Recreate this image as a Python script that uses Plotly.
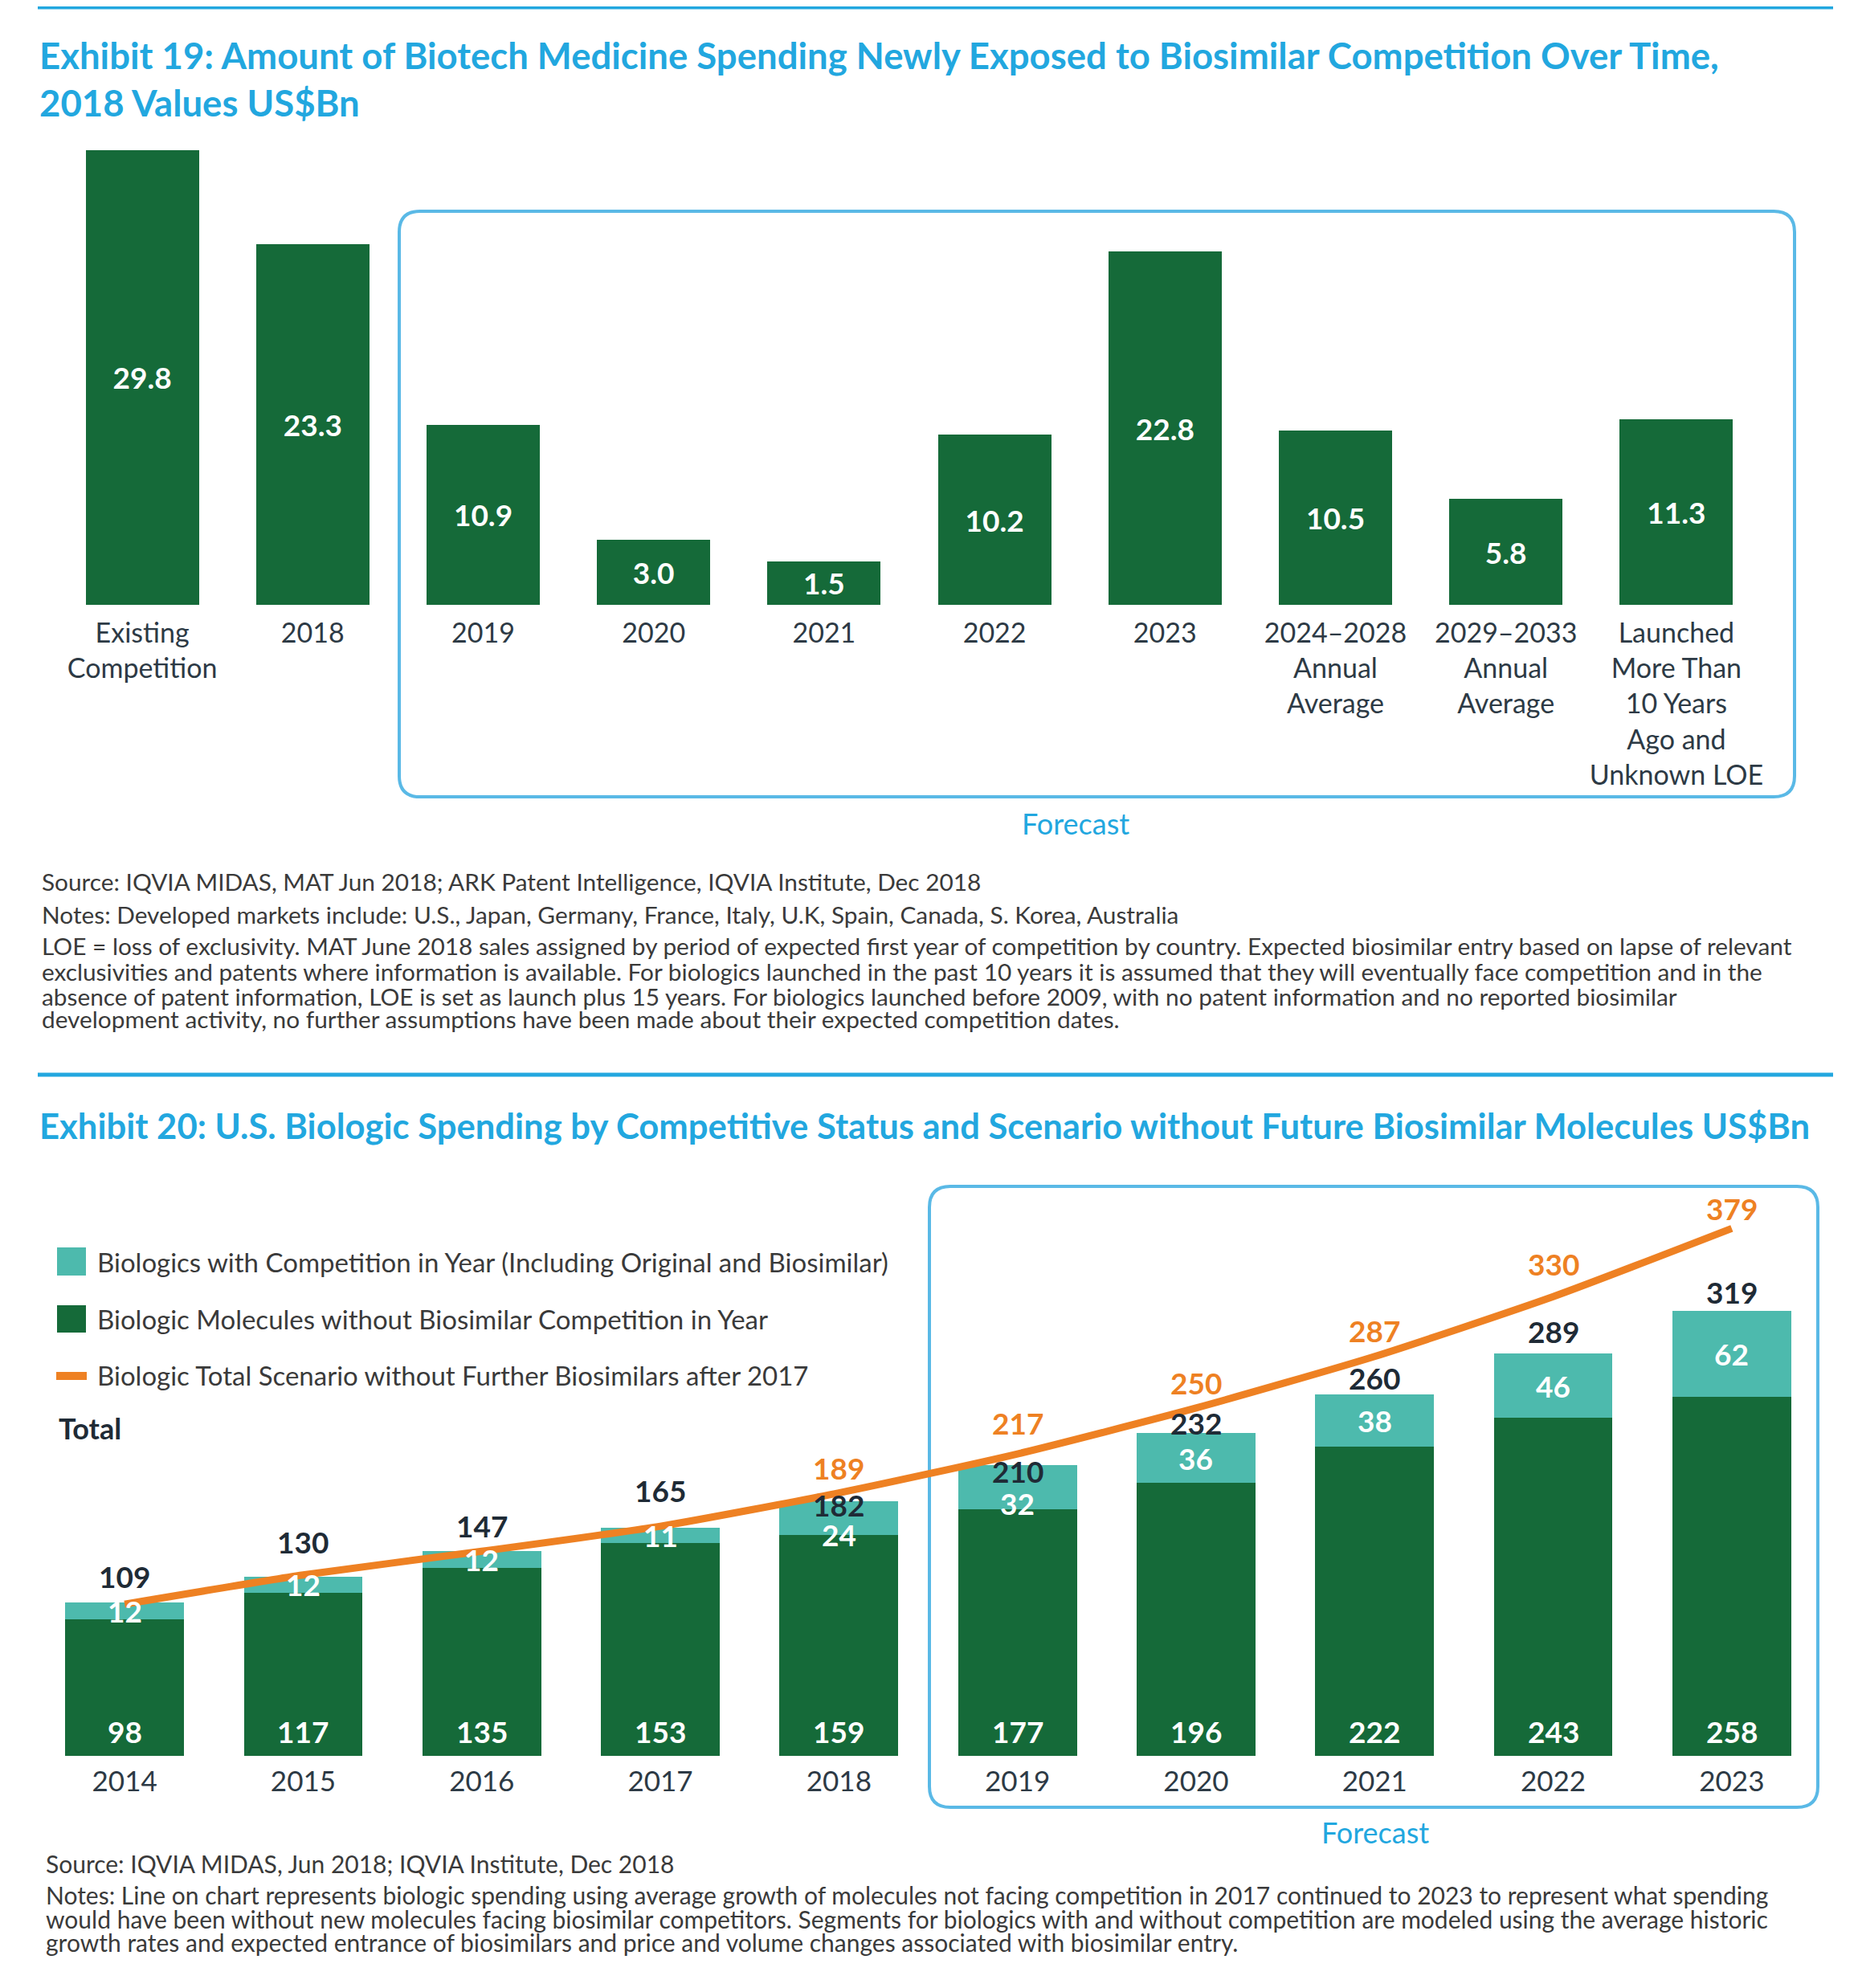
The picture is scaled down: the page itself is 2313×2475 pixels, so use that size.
import plotly.graph_objects as go

W, H = 2313, 2475

# ---------------- Exhibit 19 data ----------------
cat19 = ["Existing Competition", "2018", "2019", "2020", "2021", "2022", "2023",
         "2024-2028 Annual Average", "2029-2033 Annual Average",
         "Launched More Than 10 Years Ago and Unknown LOE"]
tick19 = ["Existing<br>Competition", "2018", "2019", "2020", "2021", "2022", "2023",
          "2024–2028<br>Annual<br>Average", "2029–2033<br>Annual<br>Average",
          "Launched<br>More Than<br>10 Years<br>Ago and<br>Unknown LOE"]
val19 = [29.8, 23.3, 10.9, 3.0, 1.5, 10.2, 22.8, 10.5, 5.8, 11.3]

# ---------------- Exhibit 20 data ----------------
years20 = ["2014", "2015", "2016", "2017", "2018", "2019", "2020", "2021", "2022", "2023"]
without_comp = [98, 117, 135, 153, 159, 177, 196, 222, 243, 258]
with_comp = [12, 12, 12, 11, 24, 32, 36, 38, 46, 62]
totals = [109, 130, 147, 165, 182, 210, 232, 260, 289, 319]
scenario = [109, 130, 147, 165, 189, 217, 250, 287, 330, 379]
scenario_label_from = "2018"

# label offsets (pixels, style only)
total_shift = [35, 41, 32, 45, -3, -9, 13, 20, 28, 25]
teal_shift = [0, 0, 0, 0, -21, -20, 0, 0, 0, 0]
orange_shift = [32, 32, 32, 32, 31, 39, 31, 32, 41, 25]

# Exhibit 19 value axis starts slightly below zero; bars rise from the axis floor
AXIS_MIN19 = -1.49

# ---------------- styles ----------------
GREEN = "#156a39"
TEAL = "#4dbaad"
ORANGE = "#ee8123"
BLUE = "#22a7df"
BOX = "#5ab9e6"
DARK = "#1f2b36"
TICK = "#2d3a45"
NOTE = "#3a3a3a"
FONT = "Lato"

OFF = 8  # page body margin compensation


def px(x):
    return (x - OFF) / W


def py(y):
    return 1 - (y - OFF) / H


fig = go.Figure()

fig.add_trace(go.Bar(
    x=cat19, y=[v - AXIS_MIN19 for v in val19], base=[AXIS_MIN19] * len(val19),
    xaxis="x", yaxis="y",
    marker=dict(color=GREEN, line=dict(width=0)),
    text=[f"{v:.1f}" for v in val19], textposition="inside",
    insidetextanchor="middle", constraintext="none",
    textfont=dict(family=FONT, size=37, color="white", weight="bold"),
    customdata=val19, hovertemplate="%{x}: %{customdata}<extra></extra>",
    showlegend=False,
))

fig.add_trace(go.Bar(
    x=years20, y=without_comp, xaxis="x2", yaxis="y2",
    marker=dict(color=GREEN, line=dict(width=0)),
    name="Biologic Molecules without Biosimilar Competition in Year",
    showlegend=False,
))
fig.add_trace(go.Bar(
    x=years20, y=with_comp, xaxis="x2", yaxis="y2",
    marker=dict(color=TEAL, line=dict(width=0)),
    name="Biologics with Competition in Year (Including Original and Biosimilar)",
    showlegend=False,
))
fig.add_trace(go.Scatter(
    x=years20, y=scenario, xaxis="x2", yaxis="y2", mode="lines",
    line=dict(color=ORANGE, width=9, shape="spline", smoothing=0.6),
    name="Biologic Total Scenario without Further Biosimilars after 2017",
    showlegend=False,
))

ann = []

def text(x, y, s, size, color, bold=False, anchor="left", xref="paper", yref="paper", yshift=0):
    ann.append(dict(x=x, y=y, xref=xref, yref=yref, text=s, showarrow=False,
                    xanchor=anchor, yanchor="middle", yshift=yshift,
                    font=dict(family=FONT, size=size, color=color,
                              weight="bold" if bold else "normal")))

# titles
text(px(47), py(68), "Exhibit 19: Amount of Biotech Medicine Spending Newly Exposed to Biosimilar Competition Over Time,", 45.5, BLUE, True)
text(px(47), py(128), "2018 Values US$Bn", 45.5, BLUE, True)
text(px(47), py(1401), "Exhibit 20: U.S. Biologic Spending by Competitive Status and Scenario without Future Biosimilar Molecules US$Bn", 43.6, BLUE, True)

# forecast labels
text(px(1339), py(1025), "Forecast", 36, BLUE, anchor="center")
text(px(1712), py(2281), "Forecast", 36, BLUE, anchor="center")

# notes 19
notes19 = [
    (1098, "Source: IQVIA MIDAS, MAT Jun 2018; ARK Patent Intelligence, IQVIA Institute, Dec 2018"),
    (1138, "Notes: Developed markets include: U.S., Japan, Germany, France, Italy, U.K, Spain, Canada, S. Korea, Australia"),
    (1178, "LOE = loss of exclusivity. MAT June 2018 sales assigned by period of expected first year of competition by country. Expected biosimilar entry based on lapse of relevant"),
    (1209, "exclusivities and patents where information is available. For biologics launched in the past 10 years it is assumed that they will eventually face competition and in the"),
    (1240, "absence of patent information, LOE is set as launch plus 15 years. For biologics launched before 2009, with no patent information and no reported biosimilar"),
    (1269, "development activity, no further assumptions have been made about their expected competition dates."),
]
for yy, s in notes19:
    text(px(50), py(yy), s, 29.8, NOTE)

notes20 = [
    (2320, "Source: IQVIA MIDAS, Jun 2018; IQVIA Institute, Dec 2018"),
    (2359, "Notes: Line on chart represents biologic spending using average growth of molecules not facing competition in 2017 continued to 2023 to represent what spending"),
    (2389, "would have been without new molecules facing biosimilar competitors. Segments for biologics with and without competition are modeled using the average historic"),
    (2418, "growth rates and expected entrance of biosimilars and price and volume changes associated with biosimilar entry."),
]
for yy, s in notes20:
    text(px(55), py(yy), s, 30, NOTE)

# legend (manual)
text(px(119), py(1571), "Biologics with Competition in Year (Including Original and Biosimilar)", 33, NOTE)
text(px(119), py(1642), "Biologic Molecules without Biosimilar Competition in Year", 33, NOTE)
text(px(119), py(1712), "Biologic Total Scenario without Further Biosimilars after 2017", 33, NOTE)
text(px(71), py(1778), "Total", 36, DARK, True)

# chart 2 labels (category index positions)
label_start = years20.index(scenario_label_from)
for i, yr in enumerate(years20):
    text(i, totals[i], str(totals[i]), 37, DARK, True, "center", "x2", "y2", total_shift[i])
    text(i, without_comp[i] + with_comp[i] / 2, str(with_comp[i]), 37, "white", True, "center", "x2", "y2", teal_shift[i])
    text(i, 0, str(without_comp[i]), 37, "white", True, "center", "x2", "y2", 31)
    if i >= label_start:
        text(i, scenario[i], str(scenario[i]), 37, ORANGE, True, "center", "x2", "y2", orange_shift[i])

shapes = []
# blue rules
for yy in (9, 1338):
    shapes.append(dict(type="line", xref="paper", yref="paper", x0=px(47), x1=px(2282),
                       y0=py(yy), y1=py(yy), line=dict(color=BLUE, width=5)))


def rbox(x0, y0, x1, y1, r):
    rx, ry = r / W, r / H
    X0, X1, Y0, Y1 = px(x0), px(x1), py(y0), py(y1)
    path = (f"M {X0+rx},{Y0} L {X1-rx},{Y0} Q {X1},{Y0} {X1},{Y0-ry} "
            f"L {X1},{Y1+ry} Q {X1},{Y1} {X1-rx},{Y1} L {X0+rx},{Y1} "
            f"Q {X0},{Y1} {X0},{Y1+ry} L {X0},{Y0-ry} Q {X0},{Y0} {X0+rx},{Y0} Z")
    return dict(type="path", xref="paper", yref="paper", path=path,
                line=dict(color=BOX, width=4), fillcolor="rgba(0,0,0,0)", layer="below")

shapes.append(rbox(497, 263, 2234, 992, 26))
shapes.append(rbox(1157, 1477, 2263, 2250, 26))

# legend swatches
shapes.append(dict(type="rect", xref="paper", yref="paper", x0=px(71), x1=px(107), y0=py(1553), y1=py(1588),
                   fillcolor=TEAL, line=dict(width=0)))
shapes.append(dict(type="rect", xref="paper", yref="paper", x0=px(71), x1=px(107), y0=py(1625), y1=py(1659),
                   fillcolor=GREEN, line=dict(width=0)))
shapes.append(dict(type="line", xref="paper", yref="paper", x0=px(70), x1=px(108), y0=py(1713), y1=py(1713),
                   line=dict(color=ORANGE, width=10)))

axis_common = dict(showgrid=False, zeroline=False, showline=False, ticks="", automargin=False)

fig.update_layout(
    width=W, height=H,
    margin=dict(l=0, r=0, t=0, b=0, autoexpand=False),
    paper_bgcolor="white", plot_bgcolor="rgba(0,0,0,0)",
    barmode="stack", bargap=0.335,
    showlegend=False,
    font=dict(family=FONT, color=TICK),
    xaxis=dict(domain=[px(71), px(2193)], anchor="y", type="category",
               range=[-0.5, len(cat19) - 0.5],
               tickmode="array", tickvals=cat19, ticktext=tick19, ticklabelstandoff=12,
               tickfont=dict(family=FONT, size=34, color=TICK), **axis_common),
    yaxis=dict(domain=[py(753), py(147)], anchor="x", range=[AXIS_MIN19, 32],
               showticklabels=False, **axis_common),
    xaxis2=dict(domain=[px(44), px(2267)], anchor="y2", type="category",
                range=[-0.5, len(years20) - 0.5], ticklabelstandoff=8,
                tickfont=dict(family=FONT, size=35, color=TICK), **axis_common),
    yaxis2=dict(domain=[py(2186), py(1493)], anchor="x2", range=[0, 400],
                showticklabels=False, **axis_common),
    annotations=ann,
    shapes=shapes,
)

fig.write_html("out.html")
